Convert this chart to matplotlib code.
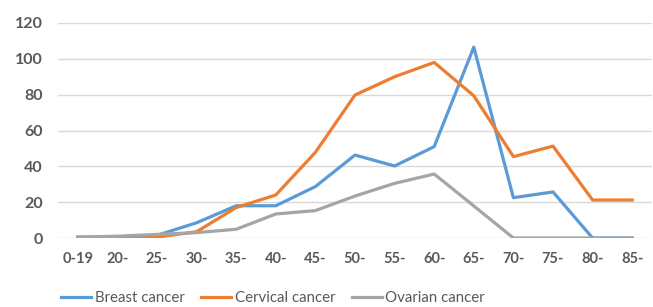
import matplotlib
matplotlib.use("Agg")
import matplotlib.pyplot as plt

categories = ["0-19", "20-", "25-", "30-", "35-", "40-", "45-", "50-", "55-", "60-", "65-", "70-", "75-", "80-", "85-"]
breast = [0.5, 0.5, 1.5, 8.5, 18, 18, 28.7, 46.3, 40.2, 51, 106.5, 22.5, 25.7, 0, 0]
cervical = [0, 0, 0.5, 3.5, 17, 24, 47.8, 79.8, 90, 98, 79.4, 45.4, 51.3, 21.2, 21.2]
ovarian = [0.5, 1, 2, 3, 4.9, 13.4, 15.3, 23.4, 30.5, 35.7, 17.9, 0, 0, 0, 0]
yticks = [0, 20, 40, 60, 80, 100, 120]

plt.rcParams['font.family'] = ['Lato', 'DejaVu Sans']

fig = plt.figure(figsize=(6.53, 3.07), dpi=100)
ax = fig.add_axes([58/653, 1-238/307, (652-58)/653, (238-23)/307])

x = list(range(len(categories)))
ax.plot(x, breast, color="#5B9BD5", lw=2.3, solid_joinstyle='round', label="Breast cancer")
ax.plot(x, cervical, color="#ED7D31", lw=2.3, solid_joinstyle='round', label="Cervical cancer")
ax.plot(x, ovarian, color="#A5A5A5", lw=2.3, solid_joinstyle='round', label="Ovarian cancer")

ax.set_xlim(-0.5, len(categories) - 0.5)
ax.set_ylim(0, 120)
ax.set_yticks(yticks)
ax.set_xticks(x)
ax.set_xticklabels(categories)
ax.yaxis.grid(True, color="#D9D9D9", lw=1)
ax.set_axisbelow(True)
for s in ax.spines.values():
    s.set_visible(False)
ax.tick_params(length=0, labelcolor="#595959", labelsize=10.5)
ax.tick_params(axis='y', labelsize=11.5, pad=11)
ax.tick_params(axis='x', pad=10)
for lab in ax.get_xticklabels() + ax.get_yticklabels():
    lab.set_fontweight('bold')

handles, labels = ax.get_legend_handles_labels()
fig.legend(handles, labels, loc='center', bbox_to_anchor=(273/653, 9/307), ncol=3,
           frameon=False, fontsize=10.8, handlelength=2.0, handletextpad=0.25,
           columnspacing=1.1, labelcolor="#595959")

fig.savefig("out.png", dpi=100)
